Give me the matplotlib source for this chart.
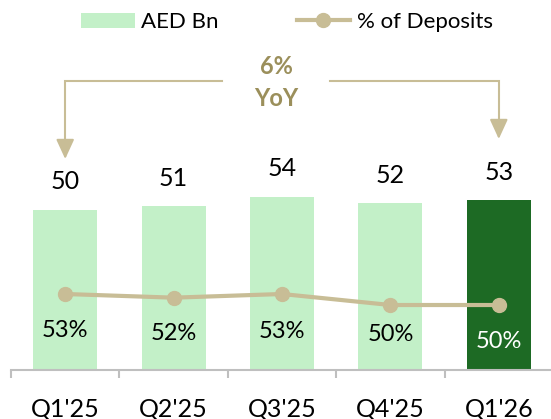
import matplotlib
matplotlib.use("Agg")
import matplotlib.pyplot as plt
from matplotlib.patches import FancyArrowPatch

# Data
quarters = ["Q1'25", "Q2'25", "Q3'25", "Q4'25", "Q1'26"]
aed_bn = [50, 51, 54, 52, 53]
pct_deposits = [53, 52, 53, 50, 50]
yoy_label = "6%\nYoY"

# Styling
LIGHT_GREEN = "#c3f0c8"
DARK_GREEN = "#1d6a24"
TAN = "#c8bd96"
OLIVE = "#9b8f5b"
AXIS_GREY = "#bfbfbf"
bar_colors = [LIGHT_GREEN] * 4 + [DARK_GREEN]
pct_text_colors = ["black"] * 4 + ["white"]
pct_offsets_pt = [-26.5, -26, -27, -21, -26.5]

plt.rcParams["font.family"] = ["Lato", "DejaVu Sans"]

W, H = 551, 419
fig = plt.figure(figsize=(W / 100, H / 100), dpi=100)

# axes spans bar baseline (y=369.5px) to y=50px, x from 11px to 553px
ax = fig.add_axes([11 / W, (H - 369.5) / H, 542 / W, (369.5 - 50) / H])
x = list(range(len(quarters)))
ax.bar(x, aed_bn, width=0.59, color=bar_colors, zorder=2, label="AED Bn")
ax.set_xlim(-0.5, 4.5)
ax.set_ylim(0, (369.5 - 50) / 3.2)

for xi, v in zip(x, aed_bn):
    ax.annotate(f"{v}", (xi, v), xytext=(0, 20), textcoords="offset points",
                ha="center", va="center", fontsize=18, color="black")

# secondary axis for the percentage line
ax2 = ax.twinx()
lo = 53 - (369.5 - 294) / 3.67
hi = 53 + (294 - 50) / 3.67
ax2.set_ylim(lo, hi)
ax2.plot(x, pct_deposits, color=TAN, lw=3, marker="o", markersize=10,
         zorder=3, label="% of Deposits")
for xi, v, c, off in zip(x, pct_deposits, pct_text_colors, pct_offsets_pt):
    ax2.annotate(f"{v}%", (xi, v), xytext=(0, off), textcoords="offset points",
                 ha="center", va="center", fontsize=17, color=c)
ax2.axis("off")

# axes cosmetics
for s in ["top", "right", "left"]:
    ax.spines[s].set_visible(False)
ax.spines["bottom"].set_color(AXIS_GREY)
ax.spines["bottom"].set_linewidth(1.5)
ax.set_yticks([])
ax.set_xticks(x)
ax.set_xticklabels(quarters, fontsize=18)
ax.tick_params(axis="x", which="major", length=0, pad=20)
ax.set_xticks([i - 0.5 for i in range(len(quarters) + 1)], minor=True)
ax.tick_params(axis="x", which="minor", length=6, width=1.5, color=AXIS_GREY)

# YoY bracket between first and last quarter
def py(px):
    return (369.5 - px) / 3.2

def pxx(px):
    return -0.5 + (px - 11) / 108.4

y_top = py(81)
txt_x = pxx(276)
gap = 54 / 108.4
ax.plot([0, 0, txt_x - gap], [py(142), y_top, y_top], color=TAN, lw=1.5,
        clip_on=False, solid_joinstyle="miter")
ax.plot([txt_x + gap, 4, 4], [y_top, y_top, py(124)], color=TAN, lw=1.5,
        clip_on=False, solid_joinstyle="miter")
for xe, ys, ye in [(0, py(142) + 0.5, py(159)), (4, py(124) + 0.5, py(139))]:
    arr = FancyArrowPatch((xe, ys), (xe, ye), arrowstyle="-|>,head_length=1.2,head_width=0.55",
                          mutation_scale=10, color=TAN, lw=1.5, shrinkA=0, shrinkB=0)
    ax.add_patch(arr)
ax.text(txt_x, py(82.5), yoy_label, ha="center", va="center", fontsize=17,
        fontweight="bold", color=OLIVE, linespacing=1.45)

# legend
h1, l1 = ax.get_legend_handles_labels()
h2, l2 = ax2.get_legend_handles_labels()
fig.legend(h1 + h2, l1 + l2, loc="center", bbox_to_anchor=(287 / W, 1 - 22 / H),
           ncol=2, frameon=False, fontsize=16, handlelength=2.4, handleheight=0.65,
           handletextpad=0.3, columnspacing=3.5, borderpad=0)

fig.savefig("out.png", dpi=100)
